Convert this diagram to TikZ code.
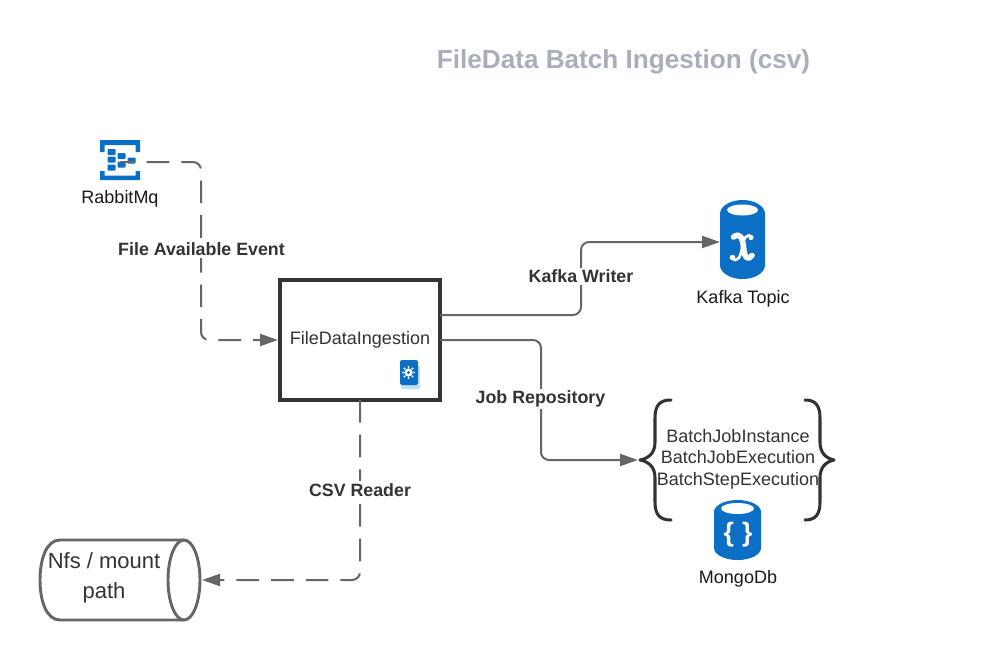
\documentclass[tikz,border=0pt]{standalone}
\usepackage{fontspec}
\setmainfont{Liberation Sans}
\usetikzlibrary{arrows.meta,calc}
\definecolor{iconblue}{HTML}{0B6FC6}
\definecolor{pageblue}{HTML}{BFE0F7}
\definecolor{linegray}{HTML}{666666}
\definecolor{inkgray}{HTML}{333333}
\definecolor{titlegray}{HTML}{A9AFBA}
\tikzset{
  conn/.style={draw=linegray,line width=1.5pt,rounded corners=6pt,-{Triangle[length=13.5pt,width=9pt]}},
  dashconn/.style={conn,dash pattern=on 17pt off 9pt},
  edgelabel/.style={fill=white,text=inkgray,inner sep=1.5pt,font=\fontsize{13.35}{16}\selectfont\bfseries},
  plainlabel/.style={text=inkgray,inner sep=0pt,align=center,font=\fontsize{13.5}{16.1}\selectfont},
  iconlabel/.style={text=black!90,inner sep=0pt,font=\fontsize{13.5}{16}\selectfont},
  mainbox/.style={draw=inkgray,line width=3pt,fill=white,outer sep=0pt,inner sep=0pt,minimum width=120pt,minimum height=90pt,text=inkgray,font=\fontsize{13.5}{16}\selectfont},
  iconarea/.style={inner sep=0pt,outer sep=0pt},
  brace/.style={draw=inkgray,line width=2.3pt,line cap=round,line join=round},
  ico/.style={fill=iconblue,draw=none},
  xstroke/.style={draw=white,line cap=round,line join=round},
}
\begin{document}
\begin{tikzpicture}[x=0.75pt,y=-0.75pt]
\useasboundingbox (0,0) rectangle (981,660);
\fill[white] (0,0) rectangle (981,660);

% title
\node[text=titlegray,inner sep=0pt,font=\fontsize{19.6}{24}\selectfont\bfseries] (title) at (623.5,61.5) {FileData Batch Ingestion (csv)};

% RabbitMq icon
\node[iconarea,minimum width=30pt,minimum height=30pt] (rabbit) at (120,160) {};
\fill[ico] (100,140) -- (140,140) -- (140,152) -- (135.5,152) -- (135.5,145) -- (104.5,145) -- (104.5,152) -- (100,152) -- cycle;
\fill[ico] (100,180) -- (140,180) -- (140,171) -- (135.5,171) -- (135.5,175.5) -- (104.5,175.5) -- (104.5,171) -- (100,171) -- cycle;
\foreach \xa/\ya in {107.5/149,107.5/156.5,107.5/164.5,117.5/153,117.5/161.5,127.5/157.5}
  \fill[ico,rounded corners=0.6pt] (\xa,\ya) rectangle ++(8,6);
\node[iconlabel] (rabbitlabel) at (120,199) {RabbitMq};

% main box
\node[mainbox] (box) at (360,340) {};
\node[plainlabel] (boxlabel) at (360,340) {FileDataIngestion};
% book icon
\node[iconarea,minimum width=14pt,minimum height=21pt] (book) at (409.5,374.5) {};
\fill[pageblue,rounded corners=1pt] (401,366) rectangle (420,389);
\fill[iconblue,rounded corners=1.2pt] (400,360) rectangle (418,385);
\fill[white] (408.5,372.5) circle (4.2);
\foreach \a in {0,45,...,315}
  \fill[white] ($(408.5,372.5)+(\a:5.6)$) circle (1.1);
\fill[iconblue] (408.5,372.5) circle (1.7);

% Kafka cylinder
\node[iconarea,minimum width=33.75pt,minimum height=59.25pt] (kafka) at (742.5,239.5) {};
\fill[ico] (720,214) arc[start angle=180,end angle=360,x radius=22.5,y radius=14]
  -- (765,265) arc[start angle=0,end angle=180,x radius=22.5,y radius=14] -- cycle;
\fill[white] (742.5,210) ellipse (15.5 and 5.5);
% script x
\draw[xstroke,line width=4.2pt] (733.5,237) .. controls (740,232) and (742.5,238) .. (743.5,247) .. controls (744.5,256) and (746.5,262) .. (752,255.5);
\draw[xstroke,line width=2pt] (752,237) .. controls (746,232) and (743,240) .. (742,248) .. controls (741,256) and (737,264) .. (732,258);
\fill[white] (751,237.5) circle (2.6);
\fill[white] (732.5,257.5) circle (2.8);
\node[iconlabel] (kafkalabel) at (743,298.5) {Kafka Topic};

% Batch list
\node[plainlabel] (batch) at (738,459) {BatchJobInstance\\BatchJobExecution\\BatchStepExecution};
\coordinate (braceL) at (640,460);
\coordinate (braceR) at (834,460);
\path[brace] (671,400) .. controls (660,400) and (655,405) .. (655,418) -- (655,442) .. controls (655,452) and (650,458) .. (braceL)
  .. controls (650,462) and (655,468) .. (655,478) -- (655,502) .. controls (655,515) and (660,520) .. (671,520);
\path[brace] (805,400) .. controls (815,400) and (820,405) .. (820,418) -- (820,442) .. controls (820,452) and (825,458) .. (braceR)
  .. controls (825,462) and (820,468) .. (820,478) -- (820,502) .. controls (820,515) and (815,520) .. (805,520);

% Mongo cylinder
\node[iconarea,minimum width=35pt,minimum height=45pt] (mongo) at (737.5,530) {};
\fill[ico] (714,512) arc[start angle=180,end angle=360,x radius=23.5,y radius=12]
  -- (761,548) arc[start angle=0,end angle=180,x radius=23.5,y radius=12] -- cycle;
\fill[white] (737.5,508.5) ellipse (16.5 and 5.5);
\node[text=white,inner sep=0pt,font=\fontsize{20}{20}\selectfont\bfseries] (mongob) at (738,535) {\{\hspace{6pt}\}};
\node[iconlabel] (mongolabel) at (738,578.5) {MongoDb};

% Nfs cylinder
\node[iconarea,minimum width=120pt,minimum height=60pt] (nfs) at (120,580) {};
\draw[linegray,line width=2.2pt,fill=white] (184,540) -- (60,540) .. controls (46,540) and (40,560) .. (40,580) .. controls (40,600) and (46,620) .. (60,620) -- (184,620);
\draw[linegray,line width=2.2pt,fill=white] (184,580) ellipse (16 and 40);
\node[plainlabel,font=\fontsize{16.5}{22.5}\selectfont] (nfslabel) at (104,578) {Nfs / mount\\path};

% connector ends
\coordinate (rabbitOut) at ($(rabbit.center)+(0,2)$);
\coordinate (boxIn) at ($(box.west)+(-2,0)$);
\coordinate (kafkaOut) at ($(box.east)+(0,-25)$);
\coordinate (jobOut) at (box.east);
\coordinate (kafkaIn) at ($(kafka.west)+(0,2.5)$);
\coordinate (batchIn) at ($(braceL)+(-2,0)$);
\coordinate (nfsIn) at ($(nfs.east)+(2,0)$);

% connectors
\draw[dashconn,dash phase=6pt] (rabbitOut) -| (201,340) -- (boxIn);
\draw[conn] (kafkaOut) -- (581,315) -- (581,242) -- (kafkaIn);
\draw[conn] (jobOut) -- (541,340) -- (541,460) -- (batchIn);
\draw[dashconn] (box.south) -- (360,580) -- (nfsIn);

% connector labels
\node[edgelabel] (l1) at (201.5,249.5) {File Available Event};
\node[edgelabel] (l2) at (581,276.5) {Kafka Writer};
\node[edgelabel] (l3) at (540.5,399) {Job Repository};
\node[edgelabel] (l4) at (360,490) {CSV Reader};
\end{tikzpicture}
\end{document}
